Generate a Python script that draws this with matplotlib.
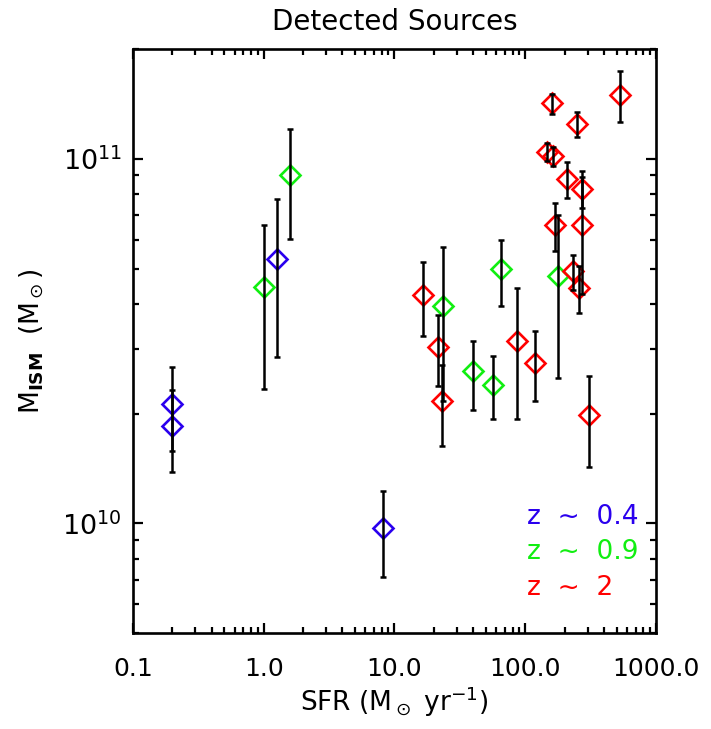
import matplotlib
matplotlib.use("Agg")
import matplotlib.pyplot as plt
from matplotlib.ticker import LogLocator, FixedLocator, FixedFormatter, NullFormatter

# ---- data ----
sfr_z04 = [0.2, 0.2, 1.26, 8.2]
mism_z04 = [2.13e10, 1.85e10, 5.30e10, 9.7e9]
err_z04 = [0.55e10, 0.47e10, 2.45e10, 2.57e9]

sfr_z09 = [1.0, 1.59, 23.6, 40.0, 56.4, 64.9, 177.0]
mism_z09 = [4.46e10, 9.04e10, 3.95e10, 2.61e10, 2.40e10, 4.97e10, 4.76e10]
err_z09 = [2.13e10, 3.0e10, 1.78e10, 0.56e10, 0.47e10, 1.02e10, 2.26e10]

sfr_z2 = [16.4, 21.4, 23.2, 86.0, 118.8, 159.0, 250.0, 530.0, 146.0, 164.0,
          207.0, 270.0, 169.0, 270.0, 231.0, 259.0, 307.0]
mism_z2 = [4.24e10, 3.05e10, 2.17e10, 3.17e10, 2.76e10, 1.42e11, 1.245e11, 1.50e11,
           1.047e11, 1.015e11, 8.8e10, 8.28e10, 6.57e10, 6.57e10, 4.91e10, 4.42e10, 1.98e10]
err_z2 = [0.98e10, 0.67e10, 0.54e10, 1.24e10, 0.6e10, 0.9e10, 1.0e10, 2.4e10, 0.6e10,
          0.6e10, 1.0e10, 0.95e10, 0.98e10, 2.32e10, 0.55e10, 0.65e10, 0.55e10]

legend_labels = ["z  \u223c  0.4", "z  \u223c  0.9", "z  \u223c  2"]
x_ticks = [0.1, 1.0, 10.0, 100.0, 1000.0]
x_tick_labels = ["0.1", "1.0", "10.0", "100.0", "1000.0"]
y_ticks = [1e10, 1e11]
y_tick_labels = [r"$10^{10}$", r"$10^{11}$"]

colors = ["#2a00ee", "#11ee11", "#ff0000"]

plt.rcParams['font.family'] = ['DejaVu Sans']
plt.rcParams['mathtext.fontset'] = 'dejavusans'

fig = plt.figure(figsize=(7.11, 7.29), dpi=100)
ax = fig.add_axes([0.187, 0.1317, 0.7356, 0.801])

groups = [(sfr_z04, mism_z04, err_z04), (sfr_z09, mism_z09, err_z09), (sfr_z2, mism_z2, err_z2)]
for (xs, ys, es), c in zip(groups, colors):
    ax.plot(xs, ys, linestyle='none', marker='D', markersize=10, markerfacecolor='none',
            markeredgecolor=c, markeredgewidth=1.9, zorder=2)
    ax.errorbar(xs, ys, yerr=es, fmt='none', ecolor='black', elinewidth=1.8,
                capsize=2.2, capthick=1.8, zorder=3)

ax.set_xscale('log')
ax.set_yscale('log')
ax.set_xlim(0.1, 1000.0)
ax.set_ylim(5e9, 2e11)

ax.xaxis.set_major_locator(FixedLocator(x_ticks))
ax.xaxis.set_major_formatter(FixedFormatter(x_tick_labels))
ax.xaxis.set_minor_locator(LogLocator(base=10, subs=range(2, 10), numticks=20))
ax.xaxis.set_minor_formatter(NullFormatter())
ax.yaxis.set_major_locator(FixedLocator(y_ticks))
ax.yaxis.set_major_formatter(FixedFormatter(y_tick_labels))
ax.yaxis.set_minor_locator(LogLocator(base=10, subs=range(2, 10), numticks=20))
ax.yaxis.set_minor_formatter(NullFormatter())

ax.tick_params(which='both', direction='in', top=True, right=True, width=1.6, color='black')
ax.tick_params(which='major', length=7.5)
ax.tick_params(which='minor', length=4)
ax.tick_params(axis='x', which='major', labelsize=18, pad=17)
ax.tick_params(axis='y', which='major', labelsize=19.5, pad=8)
for sp in ax.spines.values():
    sp.set_linewidth(1.9)

ax.set_title("Detected Sources", fontsize=20, pad=14)
ax.set_xlabel(r"SFR (M$_\odot$ yr$^{-1}$)", fontsize=19, labelpad=3)
ax.set_ylabel(r"M$_{\mathbf{ISM}}$  (M$_\odot$)", fontsize=19, labelpad=12)

ly = [0.1986, 0.1387, 0.0771]
for lab, c, yy in zip(legend_labels, colors, ly):
    ax.text(0.753, yy, lab, color=c, fontsize=19, transform=ax.transAxes, va='center', ha='left')

fig.savefig("out.png", dpi=100)
